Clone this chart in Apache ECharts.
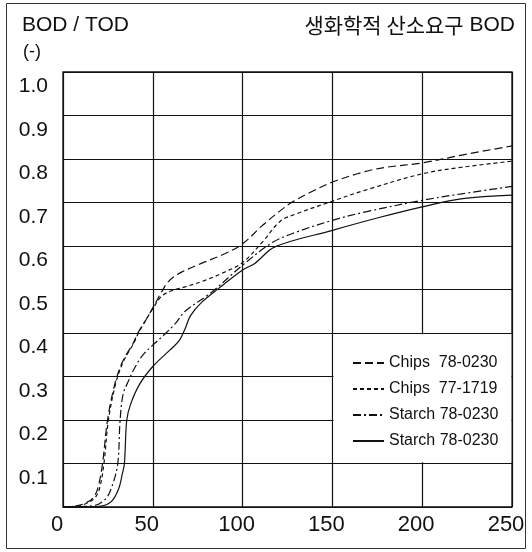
<!DOCTYPE html>
<html>
<head>
<meta charset="utf-8">
<script src="https://cdn.jsdelivr.net/npm/echarts@6/dist/echarts.min.js"></script>
<style>
html,body{margin:0;padding:0;background:#fff;}
#chart{width:532px;height:552px;}
</style>
</head>
<body>
<div id="chart"></div>
<script>
// ---- data ----
const seriesNames = ['Chips  78-0230', 'Chips  77-1719', 'Starch 78-0230', 'Starch 78-0230 '];

const chipsA_x = [0, 8, 13, 17, 19.5, 22, 24.8, 28.8, 32.4, 35.2, 38.9, 41.7, 46.3, 50, 55, 58, 62, 66, 77, 90, 100, 111, 120, 128, 140, 150, 168, 180, 200, 222, 250];
const chipsA_y = [0, 0.003, 0.01, 0.022, 0.045, 0.1, 0.2, 0.282, 0.327, 0.35, 0.375, 0.4, 0.431, 0.458, 0.495, 0.515, 0.53, 0.54, 0.56, 0.582, 0.605, 0.647, 0.678, 0.702, 0.728, 0.747, 0.771, 0.781, 0.791, 0.809, 0.83];

const chipsB_x = [0, 9, 14, 18, 20.5, 22.8, 25.3, 29.2, 32.8, 35.6, 39.2, 42, 46.3, 50, 55, 61, 68, 79, 90, 100, 111, 121, 130, 150, 168, 200, 222, 250];
const chipsB_y = [0, 0.003, 0.01, 0.022, 0.045, 0.1, 0.2, 0.282, 0.327, 0.35, 0.375, 0.4, 0.431, 0.456, 0.485, 0.498, 0.506, 0.521, 0.54, 0.562, 0.609, 0.657, 0.674, 0.703, 0.728, 0.766, 0.781, 0.795];

const starchA_x = [0, 10, 18, 24, 27.5, 30.5, 31.8, 33.5, 36.5, 39.8, 44.4, 50, 57.4, 63, 68, 82.8, 100, 117, 130, 150, 168, 200, 222, 250];
const starchA_y = [0, 0.001, 0.004, 0.02, 0.05, 0.1, 0.2, 0.26, 0.29, 0.319, 0.349, 0.372, 0.4, 0.424, 0.45, 0.494, 0.556, 0.609, 0.632, 0.659, 0.678, 0.705, 0.72, 0.737];

const starchB_x = [0, 12, 21, 27, 31, 33, 34.2, 35.5, 37.7, 42.6, 50, 59.3, 64.8, 68, 71, 77.3, 86.5, 100, 106.8, 118, 150, 176.5, 200, 222.5, 250];
const starchB_y = [0, 0, 0.002, 0.013, 0.042, 0.076, 0.1, 0.2, 0.237, 0.282, 0.323, 0.36, 0.383, 0.41, 0.44, 0.471, 0.502, 0.545, 0.56, 0.598, 0.636, 0.666, 0.69, 0.709, 0.717];

const xTicks = [0, 50, 100, 150, 200, 250];
const yTicks = [0.1, 0.2, 0.3, 0.4, 0.5, 0.6, 0.7, 0.8, 0.9, 1.0];

// legend box region (data coords of the grid cell that is blanked)
const legendCell = { x0: 150, x1: 250, y0: 0.1, y1: 0.4 };

// ---- build ----
const pair = (xs, ys) => xs.map((x, i) => [x, ys[i]]);
const FONT = "'Liberation Sans Narrow', 'Arial Narrow', 'Liberation Sans', Arial, sans-serif";
const INK = '#111';

const lineStyles = [
  { type: [8, 4], width: 1.2 },
  { type: [4, 3], width: 1.2 },
  { type: [8, 3, 2, 3], width: 1.2 },
  { type: 'solid', width: 1.2 }
];
const datasets = [pair(chipsA_x, chipsA_y), pair(chipsB_x, chipsB_y), pair(starchA_x, starchA_y), pair(starchB_x, starchB_y)];

const series = datasets.map((d, i) => ({
  name: seriesNames[i],
  type: 'line',
  data: d,
  symbol: 'none',
  smooth: 0.35,
  lineStyle: Object.assign({ color: INK }, lineStyles[i]),
  itemStyle: { color: INK },
  z: 3
}));
// white box that hides the grid behind the legend
series[3].markArea = {
  silent: true,
  label: { show: false },
  itemStyle: { color: '#fff', borderWidth: 0 },
  data: [[
    { xAxis: legendCell.x0 + 0.6, yAxis: legendCell.y0 + 0.003 },
    { xAxis: legendCell.x1 - 0.4, yAxis: legendCell.y1 - 0.003 }
  ]]
};

const chart = echarts.init(document.getElementById('chart'), null, { renderer: 'canvas' });
chart.setOption({
  backgroundColor: '#fff',
  animation: false,
  grid: { left: 63, right: 20, top: 72, bottom: 45, show: true, borderColor: INK, borderWidth: 1.3, backgroundColor: 'transparent' },
  xAxis: {
    type: 'value', min: xTicks[0], max: xTicks[xTicks.length - 1], interval: 50,
    axisLine: { show: false }, axisTick: { show: false },
    splitLine: { show: true, lineStyle: { color: INK, width: 1.2 } },
    axisLabel: { fontFamily: FONT, fontSize: 22, color: INK, margin: 7, padding: [0, 12, 0, 0],
      formatter: v => xTicks.includes(v) ? String(v) : '' }
  },
  yAxis: {
    type: 'value', min: 0, max: 1, interval: 0.1,
    axisLine: { show: false }, axisTick: { show: false },
    splitLine: { show: true, lineStyle: { color: INK, width: 1.2 } },
    axisLabel: { fontFamily: FONT, fontSize: 21, color: INK, margin: 15, verticalAlign: 'top', padding: [4, 0, 0, 0],
      showMinLabel: false,
      formatter: v => yTicks.some(t => Math.abs(t - v) < 1e-6) ? v.toFixed(1) : '' }
  },
  legend: {
    orient: 'vertical', left: 347, top: 348,
    itemWidth: 31, itemHeight: 14, itemGap: 6,
    itemStyle: { color: 'rgba(0,0,0,0)', borderWidth: 0, opacity: 0 },
    textStyle: { fontFamily: FONT, fontSize: 16, color: INK, lineHeight: 20, padding: [0, 0, 0, 0] },
    selectedMode: false,
    data: seriesNames
  },
  graphic: [
    { type: 'rect', shape: { x: 6.5, y: 3.5, width: 519, height: 545 }, style: { fill: 'none', stroke: '#333', lineWidth: 1 }, silent: true },
    { type: 'text', left: 22, top: 15, style: { text: 'BOD / TOD', font: "21px " + FONT, fill: INK } },
    { type: 'text', left: 23, top: 43, style: { text: '(-)', font: "18px " + FONT, fill: INK } },
    { type: 'text', right: 17, top: 15, style: {
      text: '{k|생화학적 산소요구} {b|BOD}',
      rich: {
        k: { fontFamily: "'Noto Sans CJK KR', sans-serif", fontSize: 21, fill: INK, color: INK },
        b: { fontFamily: FONT, fontSize: 21, fill: INK, color: INK }
      },
      font: "21px " + FONT, fill: INK } }
  ],
  series: series
});
</script>
</body>
</html>
